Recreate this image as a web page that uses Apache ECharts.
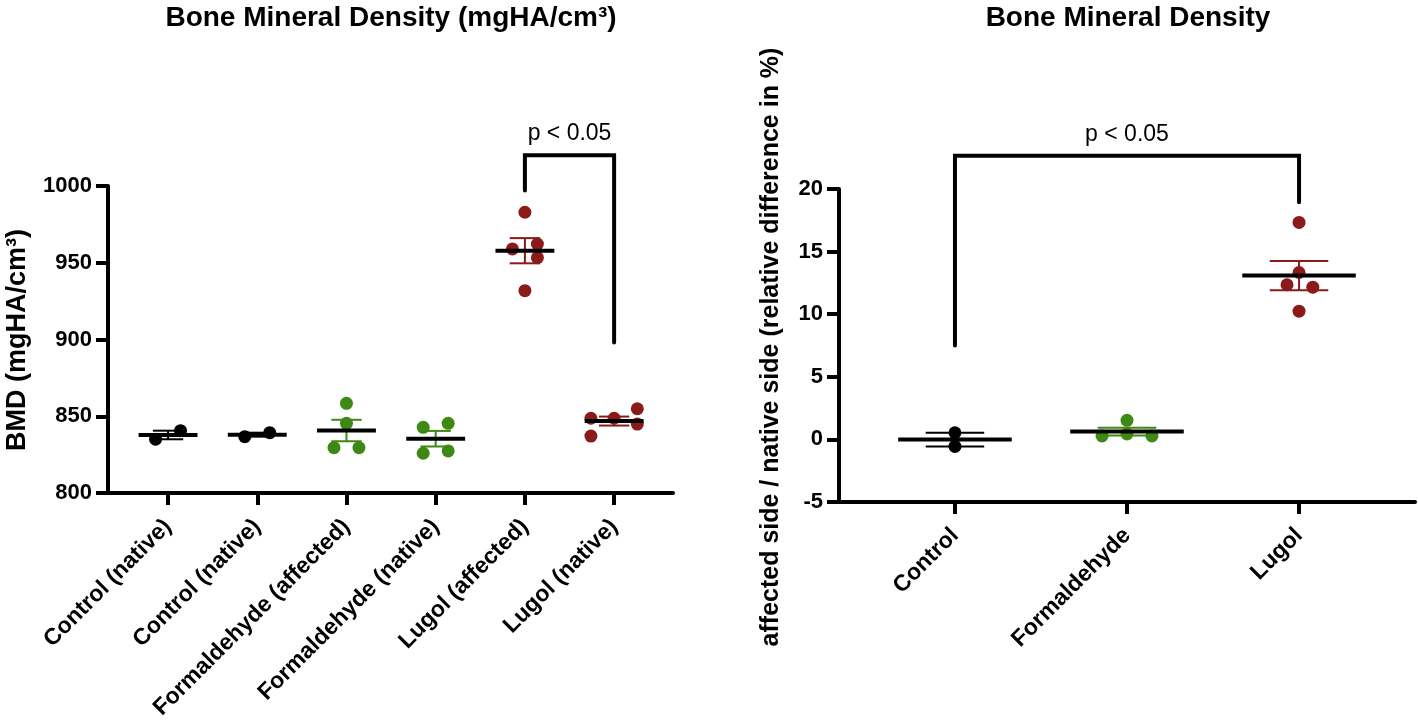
<!DOCTYPE html>
<html>
<head>
<meta charset="utf-8">
<script src="https://cdn.jsdelivr.net/npm/echarts@6/dist/echarts.min.js"></script>
<style>
  html, body { margin: 0; padding: 0; background: #fff; }
  #chart { width: 1418px; height: 722px; }
</style>
</head>
<body>
<div id="chart"></div>
<script>
// ---------------- DATA ----------------
const leftTitle = 'Bone Mineral Density (mgHA/cm³)';
const rightTitle = 'Bone Mineral Density';
const leftYName = 'BMD (mgHA/cm³)';
const rightYName = 'affected side / native side (relative difference in %)';
const pText = 'p < 0.05';

const leftCategories = ['Control (native)', 'Control (native)', 'Formaldehyde (affected)', 'Formaldehyde (native)', 'Lugol (affected)', 'Lugol (native)'];
const leftGroupColor = ['#000000', '#000000', '#3E8914', '#3E8914', '#8B1A1A', '#8B1A1A'];
const leftValues = [
  [835.0, 840.6],
  [836.7, 839.3],
  [858.4, 845.4, 829.5, 829.5],
  [842.8, 845.4, 825.9, 827.4],
  [982.9, 959.0, 962.2, 953.3, 931.8],
  [848.7, 848.7, 854.9, 844.9, 837.1]
];
// horizontal jitter of each point, in category units
const leftJitter = [
  [-0.14, 0.14],
  [-0.14, 0.14],
  [0, 0, -0.14, 0.14],
  [-0.14, 0.14, -0.14, 0.14],
  [0, -0.14, 0.14, 0.14, 0],
  [-0.26, 0, 0.26, 0.26, -0.26]
];
const leftBracket = [[4, 997], [4, 1020], [5, 1020], [5, 898]];
const leftPPos = [4.5, 1026];

const rightCategories = ['Control', 'Formaldehyde', 'Lugol'];
const rightGroupColor = ['#000000', '#3E8914', '#8B1A1A'];
const rightValues = [
  [0.53, -0.56],
  [1.52, 0.27, 0.43, 0.27],
  [17.33, 13.33, 12.35, 12.16, 10.24]
];
const rightJitter = [
  [0, 0],
  [0, -0.145, 0, 0.145],
  [0, 0, -0.07, 0.08, 0]
];
const rightBracket = [[0, 7.5], [0, 22.65], [2, 22.65], [2, 18.95]];
const rightPPos = [1, 23.4];

// ---------------- BUILD ----------------
const FONT = '"Liberation Sans", Arial, Helvetica, sans-serif';

function stats(vals) {
  const n = vals.length;
  const m = vals.reduce((a, b) => a + b, 0) / n;
  const sd = Math.sqrt(vals.reduce((a, b) => a + (b - m) * (b - m), 0) / (n - 1));
  return [m, sd / Math.sqrt(n)];
}

function summaryData(values) {
  return values.map((vals, i) => {
    const [m, sem] = stats(vals);
    return [i, m, m - sem, m + sem];
  });
}

function pointSeries(values, jitter, colors, axisIdx) {
  return values.map((vals, i) => ({
    type: 'scatter',
    xAxisIndex: axisIdx, yAxisIndex: axisIdx,
    symbol: 'circle', symbolSize: 13,
    itemStyle: { color: colors[i], opacity: 1 },
    z: 2,
    silent: true,
    data: vals.map((v, j) => [i + jitter[i][j], v])
  }));
}

function summarySeries(values, colors, axisIdx) {
  return {
    type: 'custom',
    xAxisIndex: axisIdx, yAxisIndex: axisIdx,
    z: 3,
    silent: true,
    encode: { x: 0, y: 1 },
    data: summaryData(values),
    renderItem: function (params, api) {
      const x = api.value(0), m = api.value(1), lo = api.value(2), hi = api.value(3);
      const color = colors[x];
      const a = api.coord([x - 0.33, m]), b = api.coord([x + 0.33, m]);
      const t = api.coord([x, hi]), u = api.coord([x, lo]);
      const c1 = api.coord([x - 0.17, hi]), c2 = api.coord([x + 0.17, hi]);
      const d1 = api.coord([x - 0.17, lo]), d2 = api.coord([x + 0.17, lo]);
      const thin = { stroke: color, lineWidth: 2 };
      return {
        type: 'group',
        children: [
          { type: 'line', shape: { x1: t[0], y1: t[1], x2: u[0], y2: u[1] }, style: thin },
          { type: 'line', shape: { x1: c1[0], y1: c1[1], x2: c2[0], y2: c2[1] }, style: thin },
          { type: 'line', shape: { x1: d1[0], y1: d1[1], x2: d2[0], y2: d2[1] }, style: thin },
          { type: 'line', shape: { x1: a[0], y1: a[1], x2: b[0], y2: b[1] }, style: { stroke: '#000', lineWidth: 4 } }
        ]
      };
    }
  };
}

function bracketSeries(pts, axisIdx) {
  return {
    type: 'line', xAxisIndex: axisIdx, yAxisIndex: axisIdx,
    data: pts, symbol: 'none', clip: false, silent: true,
    lineStyle: { color: '#000', width: 4, cap: 'round', join: 'miter' },
    z: 4
  };
}

function pSeries(pos, axisIdx) {
  return {
    type: 'scatter', xAxisIndex: axisIdx, yAxisIndex: axisIdx,
    data: [pos], symbolSize: 1, clip: false, silent: true,
    itemStyle: { color: 'rgba(0,0,0,0)' },
    label: {
      show: true, position: 'top', distance: 0, formatter: pText,
      fontSize: 23, fontFamily: FONT, color: '#000000', opacity: 1,
      textBorderWidth: 0
    },
    z: 5
  };
}

function xAxisCfg(cats, min, max, gi) {
  const idx = cats.map((_, i) => i);
  return {
    type: 'value', gridIndex: gi, min: min, max: max,
    splitLine: { show: false },
    axisLine: { show: true, onZero: false, lineStyle: { color: '#000', width: 4 } },
    axisTick: { show: true, customValues: idx, length: 12, lineStyle: { color: '#000', width: 4 } },
    axisLabel: {
      customValues: idx, rotate: 45, margin: 30,
      formatter: v => cats[Math.round(v)],
      fontSize: 23, fontWeight: 'bold', fontFamily: FONT, color: '#000'
    }
  };
}

function yAxisCfg(min, max, interval, gi) {
  return {
    type: 'value', gridIndex: gi, min: min, max: max, interval: interval,
    splitLine: { show: false },
    axisLine: { show: true, onZero: false, lineStyle: { color: '#000', width: 4 } },
    axisTick: { show: true, length: 12, lineStyle: { color: '#000', width: 4 } },
    axisLabel: { margin: 16, fontSize: 22, fontWeight: 'bold', fontFamily: FONT, color: '#000', formatter: v => String(v) }
  };
}

const option = {
  backgroundColor: '#ffffff',
  animation: false,
  grid: [
    { left: 108, top: 186, width: 565, height: 307, outerBoundsMode: 'none', containLabel: false },
    { left: 839, top: 189, width: 576, height: 313, outerBoundsMode: 'none', containLabel: false }
  ],
  xAxis: [
    xAxisCfg(leftCategories, -0.673, 5.66, 0),
    xAxisCfg(rightCategories, -0.674, 2.674, 1)
  ],
  yAxis: [
    yAxisCfg(800, 1000, 50, 0),
    yAxisCfg(-5, 20, 5, 1)
  ],
  graphic: [
    { type: 'text', x: 391, y: 18, style: { text: leftTitle, fontSize: 28, fontWeight: 'bold', fontFamily: FONT, fill: '#000', align: 'center', verticalAlign: 'middle' } },
    { type: 'text', x: 1128, y: 18, style: { text: rightTitle, fontSize: 28, fontWeight: 'bold', fontFamily: FONT, fill: '#000', align: 'center', verticalAlign: 'middle' } },
    { type: 'text', x: 18, y: 340, rotation: Math.PI / 2, style: { text: leftYName, fontSize: 27, fontWeight: 'bold', fontFamily: FONT, fill: '#000', align: 'center', verticalAlign: 'middle' } },
    { type: 'text', x: 771, y: 347, rotation: Math.PI / 2, style: { text: rightYName, fontSize: 25, fontWeight: 'bold', fontFamily: FONT, fill: '#000', align: 'center', verticalAlign: 'middle' } }
  ],
  series: [].concat(
    pointSeries(leftValues, leftJitter, leftGroupColor, 0),
    [summarySeries(leftValues, leftGroupColor, 0), bracketSeries(leftBracket, 0), pSeries(leftPPos, 0)],
    pointSeries(rightValues, rightJitter, rightGroupColor, 1),
    [summarySeries(rightValues, rightGroupColor, 1), bracketSeries(rightBracket, 1), pSeries(rightPPos, 1)]
  )
};

const chart = echarts.init(document.getElementById('chart'), null, { renderer: 'canvas' });
chart.setOption(option);
</script>
</body>
</html>
